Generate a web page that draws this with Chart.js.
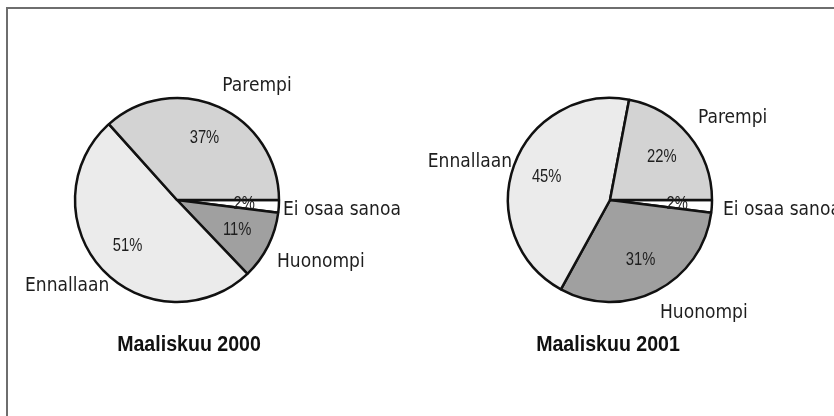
<!DOCTYPE html>
<html>
<head>
<meta charset="utf-8">
<script src="https://cdn.jsdelivr.net/npm/chart.js@4.4.1/dist/chart.umd.min.js"></script>
<style>
  html, body { margin: 0; padding: 0; background: #fff; }
  body { width: 834px; height: 416px; position: relative; overflow: hidden; }
  #frame { position: absolute; left: 6px; top: 7px; width: 900px; height: 500px;
           border-top: 2px solid #6e6e6e; border-left: 2px solid #6e6e6e; }
  .box { position: absolute; top: 0; width: 417px; height: 416px; }
  #b1 { left: 0; }
  #b2 { left: 417px; }
</style>
</head>
<body>
<div id="frame"></div>
<div class="box" id="b1"><canvas id="c1" width="417" height="416"></canvas></div>
<div class="box" id="b2"><canvas id="c2" width="417" height="416"></canvas></div>
<script>
// ---- data (clockwise from 3 o'clock) ----
const categories = ['Ei osaa sanoa', 'Huonompi', 'Ennallaan', 'Parempi'];
const values2000 = [2, 11, 51, 37];
const values2001 = [2, 31, 45, 22];
const chartTitles = ['Maaliskuu 2000', 'Maaliskuu 2001'];

// ---- styling / layout (not data) ----
const sliceColors = ['#ffffff', '#a0a0a0', '#ebebeb', '#d3d3d3'];
const FONT = '"Liberation Sans", Arial, sans-serif';
const LABEL_FONT = '"DejaVu Sans Condensed", "Liberation Sans", sans-serif';
const RADIUS = 102;

// outer label placement relative to pie centre: [dx, dy, align]
const labelLayout2000 = [[106, 10, 'left'], [100, 62, 'left'], [-152, 86, 'left'], [80, -114, 'center']];
const labelLayout2001 = [[113, 10, 'left'], [50, 113, 'left'], [-98, -38, 'right'], [88, -82, 'left']];
const titleOffset = [[12, 145], [-2, 145]];

function drawScaled(ctx, text, x, y, align, sx) {
  ctx.save();
  ctx.translate(x, y);
  ctx.scale(sx, 1);
  ctx.textAlign = align;
  ctx.fillText(text, 0, 0);
  ctx.restore();
}

function makeLabelsPlugin(values, layout, title, tOff) {
  return {
    id: 'pieLabels',
    afterDatasetsDraw(chart) {
      const ctx = chart.ctx;
      const meta = chart.getDatasetMeta(0);
      const arcs = meta.data;
      if (!arcs.length) return;
      const cx = arcs[0].x, cy = arcs[0].y, r = arcs[0].outerRadius;
      ctx.save();
      ctx.fillStyle = '#1e1e1e';
      ctx.textBaseline = 'middle';
      // percentages inside slices
      ctx.font = '18px ' + FONT;
      arcs.forEach((arc, i) => {
        const mid = (arc.startAngle + arc.endAngle) / 2;
        const x = cx + Math.cos(mid) * r * 0.66;
        const y = cy + Math.sin(mid) * r * 0.66;
        drawScaled(ctx, values[i] + '%', x, y, 'center', 0.82);
      });
      // category labels outside
      ctx.font = '19px ' + LABEL_FONT;
      categories.forEach((name, i) => {
        const [dx, dy, align] = layout[i];
        ctx.textAlign = align;
        ctx.fillText(name, cx + dx, cy + dy);
      });
      // title
      ctx.font = 'bold 22px ' + FONT;
      ctx.fillStyle = '#111';
      drawScaled(ctx, title, cx + tOff[0], cy + tOff[1], 'center', 0.89);
      ctx.restore();
    }
  };
}

function makePie(id, values, layout, title, tOff, padRight) {
  return new Chart(document.getElementById(id), {
    type: 'pie',
    data: {
      labels: categories,
      datasets: [{
        data: values,
        backgroundColor: sliceColors,
        borderColor: '#111',
        borderWidth: 2.5,
        hoverOffset: 0,
        offset: 0
      }]
    },
    options: {
      responsive: false,
      animation: false,
      devicePixelRatio: 1,
      rotation: 90,
      radius: RADIUS,
      layout: { padding: { left: 0, right: padRight, top: 0, bottom: 16 } },
      plugins: { legend: { display: false }, tooltip: { enabled: false }, title: { display: false } },
      events: []
    },
    plugins: [makeLabelsPlugin(values, layout, title, tOff)]
  });
}

makePie('c1', values2000, labelLayout2000, chartTitles[0], titleOffset[0], 63);
makePie('c2', values2001, labelLayout2001, chartTitles[1], titleOffset[1], 31);
</script>
</body>
</html>
